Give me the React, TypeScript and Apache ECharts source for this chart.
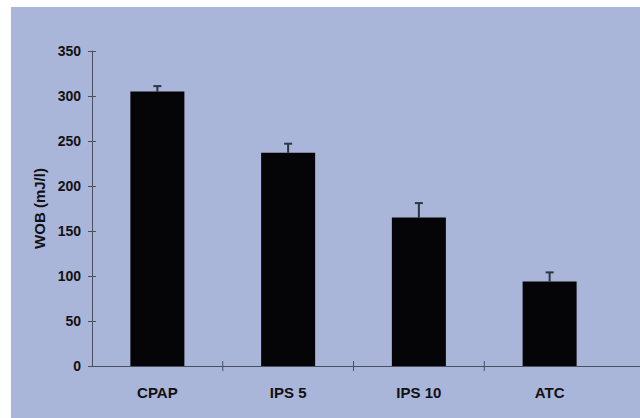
import React, { useEffect, useRef } from "react";
import * as echarts from "echarts";

const categories = ["CPAP", "IPS 5", "IPS 10", "ATC"];
const wobMeans = [305, 237, 165, 94];
const wobErrors = [6, 10, 16, 10];
const yTicks = { min: 0, max: 350, interval: 50 };

export default function App() {
  const ref = useRef<HTMLDivElement>(null);
  useEffect(() => {
    if (!ref.current) return;
    const chart = echarts.init(ref.current, null, { renderer: "svg" });
    const font = "'Liberation Sans', Arial, sans-serif";
    const axisColor = "#4a4f5e";
    const errData = categories.map((c, i) => [i, wobMeans[i], wobMeans[i] + wobErrors[i]]);
    const boundaryData = categories.slice(0, categories.length - 1).map((c, i) => [i]);
    chart.setOption({
      animation: false,
      backgroundColor: "transparent",
      grid: [
        { left: 92, right: 25, top: 51, bottom: 52 },
        { left: 92, right: 0, top: 51, bottom: 52 },
      ],
      xAxis: [
        {
          type: "category",
          gridIndex: 0,
          data: categories,
          axisLine: { show: false },
          axisTick: { show: false },
          axisLabel: {
            color: "#111",
            fontFamily: font,
            fontWeight: "bold",
            fontSize: 15,
            margin: 19,
          },
        },
        {
          type: "value",
          gridIndex: 1,
          min: 0,
          max: 1,
          axisLine: { show: true, lineStyle: { color: axisColor, width: 1 } },
          axisTick: { show: false },
          axisLabel: { show: false },
          splitLine: { show: false },
        },
      ],
      yAxis: [
        {
          type: "value",
          gridIndex: 0,
          min: yTicks.min,
          max: yTicks.max,
          interval: yTicks.interval,
          name: "WOB (mJ/l)",
          nameLocation: "middle",
          nameGap: 44,
          nameTextStyle: {
            color: "#111",
            fontFamily: font,
            fontWeight: "bold",
            fontSize: 15,
          },
          axisLine: { show: true, lineStyle: { color: axisColor, width: 1 } },
          axisTick: { show: true, length: 4, lineStyle: { color: axisColor } },
          axisLabel: {
            color: "#111",
            fontFamily: font,
            fontWeight: "bold",
            fontSize: 14,
            margin: 11,
          },
          splitLine: { show: false },
        },
        {
          type: "value",
          gridIndex: 0,
          min: yTicks.min,
          max: yTicks.max,
          interval: yTicks.interval,
          position: "left",
          axisLine: { show: false },
          axisTick: { show: true, inside: true, length: 4, lineStyle: { color: axisColor } },
          axisLabel: { show: false },
          splitLine: { show: false },
        },
        {
          type: "value",
          gridIndex: 1,
          show: false,
          min: 0,
          max: 1,
        },
      ],
      series: [
        {
          type: "bar",
          xAxisIndex: 0,
          yAxisIndex: 0,
          data: wobMeans,
          barWidth: 54,
          itemStyle: { color: "#050507" },
          z: 2,
        },
        {
          type: "custom",
          xAxisIndex: 0,
          yAxisIndex: 0,
          data: errData,
          z: 1,
          renderItem: (params: any, api: any) => {
            const x = api.value(0);
            const base = api.coord([x, api.value(1)]);
            const top = api.coord([x, api.value(2)]);
            const cap = 4;
            const style = { stroke: "#2e3446", lineWidth: 2 };
            return {
              type: "group",
              children: [
                { type: "line", shape: { x1: base[0], y1: base[1], x2: top[0], y2: top[1] }, style },
                { type: "line", shape: { x1: top[0] - cap, y1: top[1], x2: top[0] + cap, y2: top[1] }, style },
              ],
            };
          },
        },
        {
          type: "custom",
          xAxisIndex: 0,
          yAxisIndex: 0,
          data: boundaryData,
          z: 3,
          renderItem: (params: any, api: any) => {
            const i = api.value(0);
            const p = api.coord([i, 0]);
            const band = api.size([1, 0])[0];
            const bx = p[0] + band / 2;
            return {
              type: "line",
              shape: { x1: bx, y1: p[1] - 5, x2: bx, y2: p[1] + 5 },
              style: { stroke: axisColor, lineWidth: 1 },
            };
          },
        },
      ],
    });
    return () => chart.dispose();
  }, []);
  return (
    <div
      style={{
        position: "absolute",
        left: 0,
        top: 0,
        width: 640,
        height: 418,
        background: "#ffffff",
      }}
    >
      <div
        style={{
          position: "absolute",
          left: 11,
          top: 7,
          width: 629,
          height: 411,
          background: "#a9b5d9",
        }}
      />
      <div
        ref={ref}
        style={{ position: "absolute", left: 0, top: 0, width: 640, height: 418 }}
      />
    </div>
  );
}
